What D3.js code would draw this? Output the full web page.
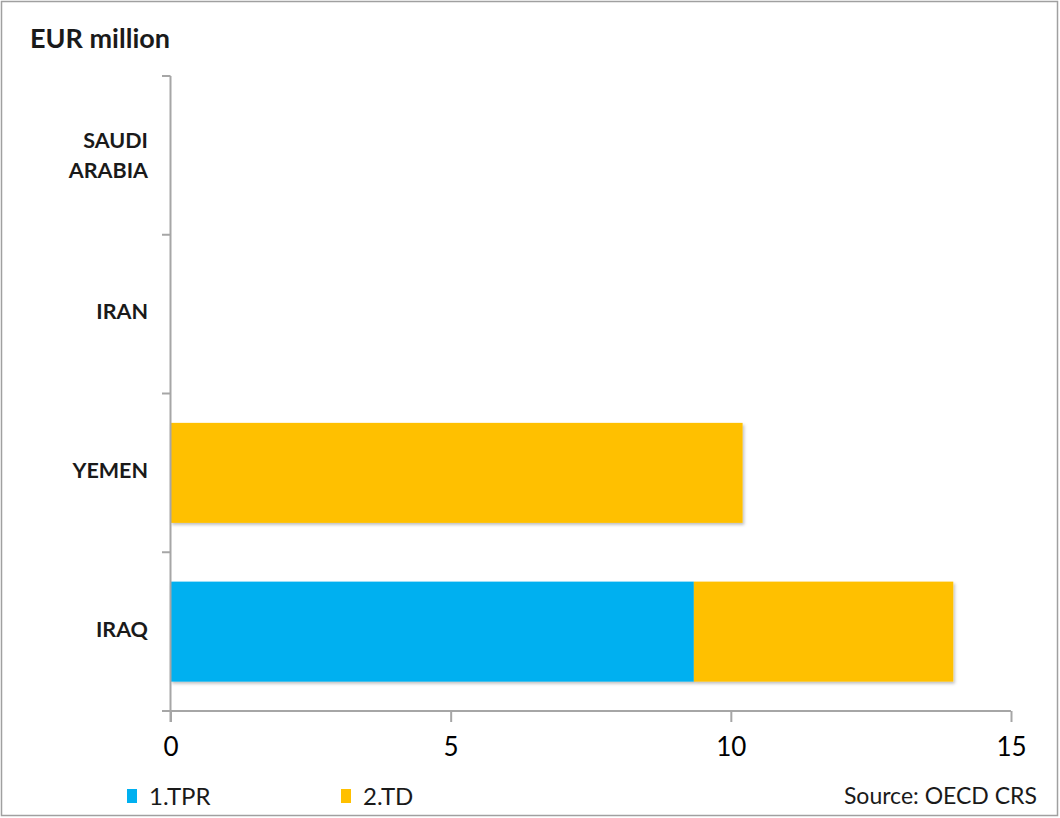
<!DOCTYPE html>
<html><head><meta charset="utf-8">
<script src="https://cdn.jsdelivr.net/npm/d3@7/dist/d3.min.js"></script>
<style>
body{margin:0;background:#fff;}
text{font-family:Lato,"Open Sans",sans-serif;}
</style></head>
<body><svg id="c" width="1060" height="818"></svg>
<script>
const categories = ["SAUDI ARABIA","IRAN","YEMEN","IRAQ"];
const seriesNames = ["1.TPR","2.TD"];
const tprValues = [0, 0, 0, 9.34];
const tdValues = [0, 0, 10.21, 4.63];
const xTicks = [0,5,10,15];
const colors = ["#00B0F0","#FFC000"];

const svg = d3.select("#c");
svg.append("rect").attr("x",1.5).attr("y",1.5).attr("width",1056).attr("height",814)
  .attr("fill","#fff").attr("stroke","#a0a0a0").attr("stroke-width",1.5);

const defs = svg.append("defs");
const f = defs.append("filter").attr("id","sh").attr("x","-5%").attr("y","-10%").attr("width","115%").attr("height","130%");
f.append("feDropShadow").attr("dx",1.5).attr("dy",2).attr("stdDeviation",1.5).attr("flood-color","#000").attr("flood-opacity",0.25);

const x = d3.scaleLinear().domain([0,15]).range([170.5,1011]);
const y = d3.scaleBand().domain(categories).range([76,711]).paddingInner(0.37).paddingOuter(0.185);
const yOuter = d3.scaleBand().domain(categories).range([76,711]);

const data = categories.map((c,i)=>({cat:c, TPR:tprValues[i], TD:tdValues[i]}));
const stack = d3.stack().keys(["TPR","TD"])(data);

const g = svg.append("g");
stack.forEach((layer,si)=>{
  g.selectAll(null).data(layer.filter(d=>d[1]-d[0]>0)).enter().append("rect")
    .attr("x",d=>x(d[0])).attr("width",d=>x(d[1])-x(d[0]))
    .attr("y",d=>y(d.data.cat)).attr("height",y.bandwidth())
    .attr("fill",colors[si]).attr("filter","url(#sh)");
});

// x axis
const axisColor = "#a6a6a6";
const xa = svg.append("g").attr("transform","translate(0,711)")
  .call(d3.axisBottom(x).tickValues(xTicks).tickSize(11).tickSizeOuter(0).tickPadding(16));
xa.select(".domain").attr("stroke",axisColor).attr("stroke-width",2).attr("d","M162,0H1011");
xa.selectAll(".tick line").attr("stroke",axisColor).attr("stroke-width",2);
xa.selectAll(".tick text").attr("fill","#000").attr("font-size",26).attr("font-family","Lato, sans-serif");

// y axis line & ticks (between categories)
const ya = svg.append("g");
ya.append("line").attr("x1",170.5).attr("x2",170.5).attr("y1",76).attr("y2",722).attr("stroke",axisColor).attr("stroke-width",2);
const bounds = categories.map(c=>yOuter(c));
ya.selectAll(null).data(bounds).enter().append("line")
  .attr("x1",162).attr("x2",170.5).attr("y1",d=>d).attr("y2",d=>d)
  .attr("stroke",axisColor).attr("stroke-width",2);

// category labels
categories.forEach(c=>{
  const cy = yOuter(c)+yOuter.bandwidth()/2;
  const parts = c==="SAUDI ARABIA" ? ["SAUDI","ARABIA"] : [c];
  const t = svg.append("text").attr("text-anchor","end").attr("font-weight","bold")
    .attr("font-size",21.5).attr("fill","#1a1a1a");
  parts.forEach((p,i)=>{
    const off = parts.length>1 ? 7.5 + (i-0.5)*30 : 5;
    t.append("tspan").attr("x",148).attr("y",cy + off).text(p);
  });
});

// title
svg.append("text").attr("x",30).attr("y",48).attr("font-size",27).attr("font-weight","bold")
  .attr("fill","#1a1a1a").text("EUR million");

// legend
const lx = [127,341];
seriesNames.forEach((s,i)=>{
  svg.append("rect").attr("x",lx[i]).attr("y",789).attr("width",10).attr("height",14).attr("fill",colors[i]);
  svg.append("text").attr("x",lx[i]+22).attr("y",805).attr("font-size",24).attr("fill","#1a1a1a").text(s);
});
svg.append("text").attr("x",1037).attr("y",804).attr("text-anchor","end").attr("font-size",23)
  .attr("fill","#1a1a1a").text("Source: OECD CRS");
</script></body></html>
